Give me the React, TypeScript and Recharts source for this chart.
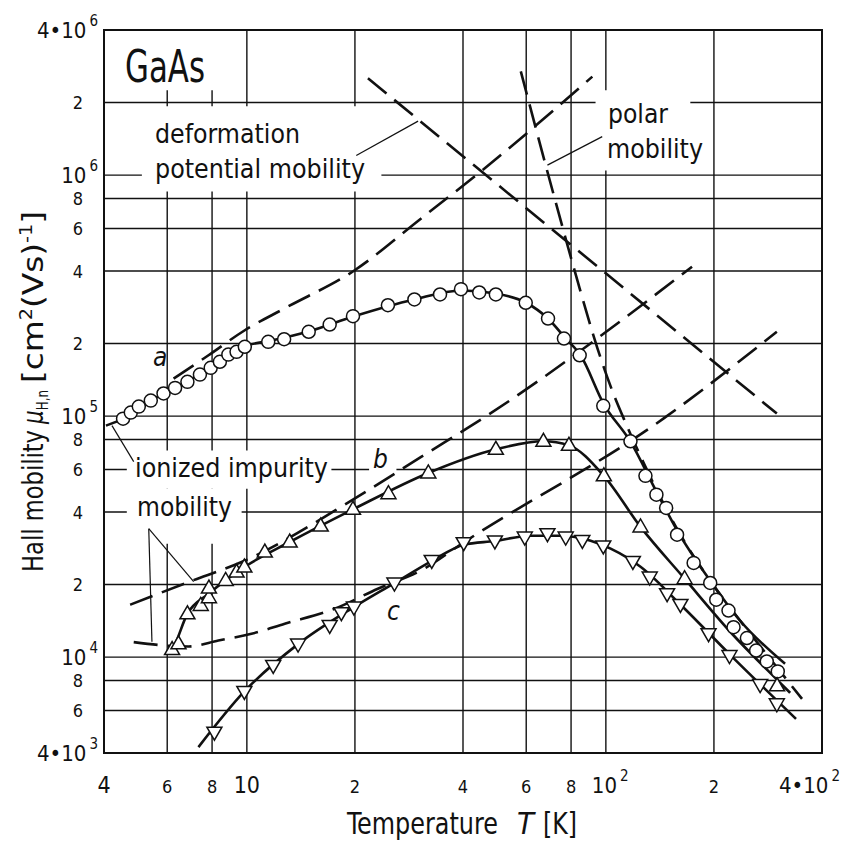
import React from 'react';
import {
  CartesianGrid,
  ComposedChart,
  Line,
  ReferenceArea,
  ReferenceLine,
  Scatter,
  XAxis,
  YAxis,
} from 'recharts';

// Hall mobility of n-type GaAs, three samples a, b, c.
// Pairs are [temperature T in K, mobility in 10^3 cm^2/(Vs)].

// measured points, sample a (open circles)
const A_POINTS: [number, number][] = [
  [4.52, 97.6], [4.75, 103.4], [5.0, 109.5], [5.4, 116], [5.86, 124.1], [6.31, 130.9],
  [6.83, 138.7], [7.4, 148.7], [7.93, 158.6], [8.41, 168], [8.88, 180], [9.36, 184.8],
  [9.87, 193.9], [11.47, 203.3], [12.7, 208.4], [14.87, 223.8], [17.01, 239.9],
  [19.75, 259.8], [24.71, 288.5], [29.29, 304.7], [34.52, 319.6], [39.49, 336.2],
  [44.39, 325.8], [49.38, 319.6], [59.82, 295.2], [69.01, 254], [76.43, 209.8],
  [84.54, 178.8], [98.35, 110.3], [117.1, 78.6], [128.9, 56.5], [138.3, 47.2],
  [147.2, 41.6], [157.9, 32.2], [175.6, 24.6], [195.3, 20.3], [203, 17.3], [219.6, 15.6],
  [226.8, 13.3], [247.1, 12], [262.2, 10.65], [280.7, 9.59], [301.2, 8.72],
];

// measured points, sample b (triangles up)
const B_POINTS: [number, number][] = [
  [6.19, 10.75], [6.45, 11.36], [6.83, 15.13], [7.44, 16.38], [7.84, 17.63], [7.84, 19.34],
  [8.73, 20.8], [9.36, 22.54], [9.84, 23.64], [11.22, 27.29], [13.16, 30.03], [16.06, 34.99],
  [19.75, 41.02], [24.8, 47.67], [32.03, 58.08], [49.38, 72.8], [66.99, 78.6], [78.91, 75.6],
  [98.72, 56.5], [124.9, 34.7], [165.7, 21.15], [299.9, 7.6],
];

// measured points, sample c (triangles down)
const C_POINTS: [number, number][] = [
  [8.12, 4.88], [9.84, 7.2], [11.84, 9.23], [13.89, 11.32], [17.01, 13.53], [18.33, 15.28],
  [19.87, 16.13], [25.77, 20.29], [32.73, 25.19], [40.18, 29.84], [49.07, 30.32],
  [59.45, 31.5], [68.74, 32.51], [77.3, 31.5], [85.99, 30.5], [98.35, 28.91], [118.9, 24.95],
  [132.5, 21.49], [148.1, 18.32], [161.3, 16.53], [193.2, 12.5], [221, 10.15], [269, 7.69],
  [299.4, 6.4],
];

// fitted curves through the measurements
const A_CURVE: [number, number][] = [
  [4.05, 91.3], [4.52, 97.6], [5.4, 116], [6.8, 139.1], [7.93, 159.1], [9.07, 183.5],
  [10, 196.2], [11.71, 205.8], [14.84, 224.4], [19.79, 258.9], [29.24, 304.7], [39.49, 332.1],
  [49.38, 322.6], [59.82, 296], [68.96, 254], [77.3, 209.8], [85.1, 178.3], [98.5, 112.7],
  [117.1, 78.3], [138.3, 48.6], [158.8, 33.1], [195.3, 20.75], [236.7, 14.15], [315.6, 9.38],
];
const B_CURVE: [number, number][] = [
  [5.98, 10.32], [6.19, 10.75], [6.83, 15.13], [7.83, 18.32], [9.84, 23.64], [13.16, 30.03],
  [19.75, 41.02], [32.03, 58.08], [49.38, 72.8], [66.99, 78.6], [78.91, 75.6], [98.72, 56.5],
  [124.9, 34.7], [165.7, 21.15], [222, 12.74], [299.9, 8.05], [326, 7.11],
];
const C_CURVE: [number, number][] = [
  [7.33, 4.23], [9.84, 7.2], [13.89, 11.32], [19.87, 16.13], [25.77, 20.29], [32.8, 25.1],
  [40.25, 29.27], [49.07, 30.32], [61.78, 31.9], [74.86, 31.9], [90.7, 30.4], [103.1, 28.2],
  [124.9, 23.7], [161.3, 16.53], [222, 10.22], [338.7, 5.54],
];

// theoretical limits (dashed)
const IONIZED_A: [number, number][] = [
  [6.25, 143.1], [7.82, 178.8], [9.87, 227.1], [12.72, 279.6], [19.92, 401.9], [30.58, 661.1],
  [44.86, 1036], [91.7, 2562],
];
const IONIZED_B: [number, number][] = [
  [4.73, 16.49], [6.88, 20.49], [9.67, 24.8], [19.95, 45.44], [30.58, 67.7], [46.84, 100.8],
  [173.8, 416.5],
];
const IONIZED_C: [number, number][] = [
  [4.84, 11.54], [5.92, 11.17], [6.88, 11.07], [8.33, 11.72], [10.3, 12.49], [12.75, 13.75],
  [17.56, 15.87], [23.17, 19.22], [30.58, 22.89], [40.33, 30.03], [144.6, 97.6], [299.4, 223.8],
];
const DEFORMATION: [number, number][] = [[21.74, 2521], [299.4, 102.4]];
const POLAR: [number, number][] = [
  [57.95, 2695], [68, 1097], [76.3, 583.7], [83.46, 361.9], [94.8, 190.7], [104.4, 126.4],
  [113.4, 93.98], [127.3, 64.1], [141.9, 45.9], [161.3, 32.2], [195.3, 20.75], [236.7, 14.15],
  [286.8, 9.84], [351.9, 6.71],
];

const X_TICKS = [4, 6, 8, 10, 20, 40, 60, 80, 100, 200, 400];
const X_LABELS = ['4', '6', '8', '10', '2', '4', '6', '8', '10^2', '2', '4•10^2'];
const X_MAJOR = [4, 10, 100, 400];
const Y_TICKS = [
  4e3, 6e3, 8e3, 1e4, 2e4, 4e4, 6e4, 8e4, 1e5, 2e5, 4e5, 6e5, 8e5, 1e6, 2e6, 4e6,
];
const Y_LABELS = [
  '4•10^3', '6', '8', '10^4', '2', '4', '6', '8', '10^5', '2', '4', '6', '8', '10^6', '2', '4•10^6',
];

const FONT = "'DejaVu Sans Condensed', 'Liberation Sans Narrow', 'DejaVu Sans', sans-serif";
const INK = '#111';

const pts = (arr: [number, number][]) => arr.map(([T, m]) => ({ T, mu: m * 1000 }));

// a power-of-ten label: base digits plus a raised exponent, in one text element
function Power({ x, y, base, sup, anchor }: any) {
  return (
    <text x={x} y={y} fontSize={22} textAnchor={anchor} fontFamily={FONT} fill={INK}>
      {base}
      <tspan fontSize={15} dx={3} dy={-12}>{sup}</tspan>
    </text>
  );
}

function XTick({ x, y, payload }: any) {
  const i = X_TICKS.indexOf(payload.value);
  const [base, sup] = (X_LABELS[i] || '').split('^');
  const major = X_MAJOR.includes(payload.value);
  const by = y + 40;
  if (sup) {
    return base.length > 2 ? (
      <Power x={x + 18} y={by} base={base} sup={sup} anchor="end" />
    ) : (
      <Power x={x - 14} y={by} base={base} sup={sup} anchor="start" />
    );
  }
  return (
    <text x={x} y={by} fontSize={major ? 23 : 18} textAnchor="middle" fontFamily={FONT} fill={INK}>
      {base}
    </text>
  );
}

function YTick({ x, y, payload }: any) {
  const i = Y_TICKS.indexOf(payload.value);
  const [base, sup] = (Y_LABELS[i] || '').split('^');
  if (!sup) {
    return (
      <text x={x - 21} y={y + 6.5} fontSize={18} textAnchor="end" fontFamily={FONT} fill={INK}>
        {base}
      </text>
    );
  }
  return <Power x={x - 6} y={y + 8} base={base} sup={sup} anchor="end" />;
}

const circle = (p: any) => (
  <circle cx={p.cx} cy={p.cy} r={6.5} fill="#fff" stroke={INK} strokeWidth={1.5} />
);
const triUp = (p: any) => (
  <polygon
    points={`${p.cx},${p.cy - 8} ${p.cx - 7.5},${p.cy + 5} ${p.cx + 7.5},${p.cy + 5}`}
    fill="#fff"
    stroke={INK}
    strokeWidth={1.5}
  />
);
const triDown = (p: any) => (
  <polygon
    points={`${p.cx},${p.cy + 8} ${p.cx - 7.5},${p.cy - 5} ${p.cx + 7.5},${p.cy - 5}`}
    fill="#fff"
    stroke={INK}
    strokeWidth={1.5}
  />
);

// white patches behind the in-plot labels, in data units
const LABEL_BOXES = [
  { x1: 4, x2: 8.8, y1: 2.25e6, y2: 4e6 },
  { x1: 5.1, x2: 23.7, y1: 8.55e5, y2: 1.93e6 },
  { x1: 93.6, x2: 171.9, y1: 1.046e6, y2: 2.248e6 },
  { x1: 4.63, x2: 17.2, y1: 5.0e4, y2: 7.19e4 },
  { x1: 21.9, x2: 26.1, y1: 5.77e4, y2: 7.69e4 },
  { x1: 4.63, x2: 9.67, y1: 2.955e4, y2: 5.0e4 },
];

// leader lines from labels to curves
const POINTERS = [
  [{ x: 20.17, y: 1.207e6 }, { x: 29.99, y: 1.675e6 }],
  [{ x: 68.74, y: 1.1e6 }, { x: 97.7, y: 1.444e6 }],
  [{ x: 4.21, y: 9.13e4 }, { x: 4.84, y: 6.47e4 }],
  [{ x: 5.33, y: 3.41e4 }, { x: 5.44, y: 1.157e4 }],
  [{ x: 5.33, y: 3.41e4 }, { x: 7.11, y: 2.055e4 }],
];

const dashed = (data: [number, number][], key: string, type: any = 'monotone') => (
  <Line
    key={key}
    data={pts(data)}
    dataKey="mu"
    type={type}
    stroke={INK}
    strokeWidth={2.6}
    strokeDasharray="24 10"
    dot={false}
    activeDot={false}
    isAnimationActive={false}
  />
);

const solid = (data: [number, number][], key: string) => (
  <Line
    key={key}
    data={pts(data)}
    dataKey="mu"
    type="monotone"
    stroke={INK}
    strokeWidth={2.6}
    dot={false}
    activeDot={false}
    isAnimationActive={false}
  />
);

export default function App() {
  return (
    <div style={{ position: 'absolute', left: 0, top: 0, width: 844, height: 842, background: '#fff' }}>
      <ComposedChart width={844} height={842} margin={{ top: 30, right: 22, bottom: 0, left: 0 }}>
        <XAxis
          dataKey="T"
          type="number"
          scale="log"
          domain={[4, 400]}
          ticks={X_TICKS}
          interval={0}
          allowDataOverflow
          axisLine={false}
          tickLine={false}
          tickSize={0}
          tickMargin={0}
          height={89}
          tick={<XTick />}
        />
        <YAxis
          dataKey="mu"
          type="number"
          scale="log"
          domain={[4e3, 4e6]}
          ticks={Y_TICKS}
          interval={0}
          allowDataOverflow
          axisLine={false}
          tickLine={false}
          tickSize={0}
          tickMargin={0}
          width={104}
          tick={<YTick />}
        />
        <CartesianGrid stroke={INK} strokeWidth={1.4} />
        {LABEL_BOXES.map((b, i) => (
          <ReferenceArea key={`box-${i}`} {...b} fill="#fff" fillOpacity={1} stroke="none" />
        ))}
        {dashed(IONIZED_A, 'ion-a')}
        {dashed(IONIZED_B, 'ion-b')}
        {dashed(IONIZED_C, 'ion-c')}
        {dashed(DEFORMATION, 'deform', 'linear')}
        {dashed(POLAR, 'polar')}
        {solid(A_CURVE, 'curve-a')}
        {solid(B_CURVE, 'curve-b')}
        {solid(C_CURVE, 'curve-c')}
        <Scatter data={pts(A_POINTS)} shape={circle} isAnimationActive={false} />
        <Scatter data={pts(B_POINTS)} shape={triUp} isAnimationActive={false} />
        <Scatter data={pts(C_POINTS)} shape={triDown} isAnimationActive={false} />
        {POINTERS.map((seg, i) => (
          <ReferenceLine key={`ptr-${i}`} segment={seg} stroke={INK} strokeWidth={1.2} />
        ))}
        <ReferenceArea x1={4} x2={400} y1={4e3} y2={4e6} fill="none" stroke={INK} strokeWidth={2} />
      </ComposedChart>
      <svg
        width={844}
        height={842}
        style={{ position: 'absolute', left: 0, top: 0, pointerEvents: 'none' }}
        fontFamily={FONT}
        fill={INK}
      >
        <text x={125} y={82} fontSize={44} textLength={80} lengthAdjust="spacingAndGlyphs">GaAs</text>
        <text x={155} y={143} fontSize={26} textLength={145} lengthAdjust="spacingAndGlyphs">deformation</text>
        <text x={155} y={178} fontSize={26} textLength={210} lengthAdjust="spacingAndGlyphs">potential mobility</text>
        <text x={608} y={123} fontSize={26} textLength={60} lengthAdjust="spacingAndGlyphs">polar</text>
        <text x={607} y={158} fontSize={26} textLength={96} lengthAdjust="spacingAndGlyphs">mobility</text>
        <text x={135} y={477} fontSize={26} textLength={193} lengthAdjust="spacingAndGlyphs">ionized impurity</text>
        <text x={137} y={516} fontSize={26} textLength={95} lengthAdjust="spacingAndGlyphs">mobility</text>
        <text x={153} y={366} fontSize={26} fontStyle="italic">a</text>
        <text x={373} y={468} fontSize={26} fontStyle="italic">b</text>
        <text x={387} y={620} fontSize={26} fontStyle="italic">c</text>

        <text x={347} y={834} fontSize={30} textLength={151} lengthAdjust="spacingAndGlyphs">Temperature</text>
        <text x={517} y={834} fontSize={30} fontStyle="italic" textLength={17} lengthAdjust="spacingAndGlyphs">T</text>
        <text x={543} y={834} fontSize={30} textLength={34} lengthAdjust="spacingAndGlyphs">[K]</text>

        <text x={43} y={572} fontSize={29} transform="rotate(-90 43 572)" textLength={142} lengthAdjust="spacingAndGlyphs">
          Hall mobility
        </text>
        <text x={43} y={424} fontSize={29} transform="rotate(-90 43 424)" textLength={34} lengthAdjust="spacingAndGlyphs">
          <tspan fontStyle="italic">μ</tspan>
          <tspan fontSize={16} dy={5}>H,n</tspan>
        </text>
        <text x={43} y={383} fontSize={29} transform="rotate(-90 43 383)" textLength={172} lengthAdjust="spacingAndGlyphs">
          [cm<tspan fontSize={17} dy={-11}>2</tspan>
          <tspan dy={11}>(Vs)</tspan>
          <tspan fontSize={17} dy={-11}>-1</tspan>
          <tspan dy={11}>]</tspan>
        </text>
      </svg>
    </div>
  );
}
